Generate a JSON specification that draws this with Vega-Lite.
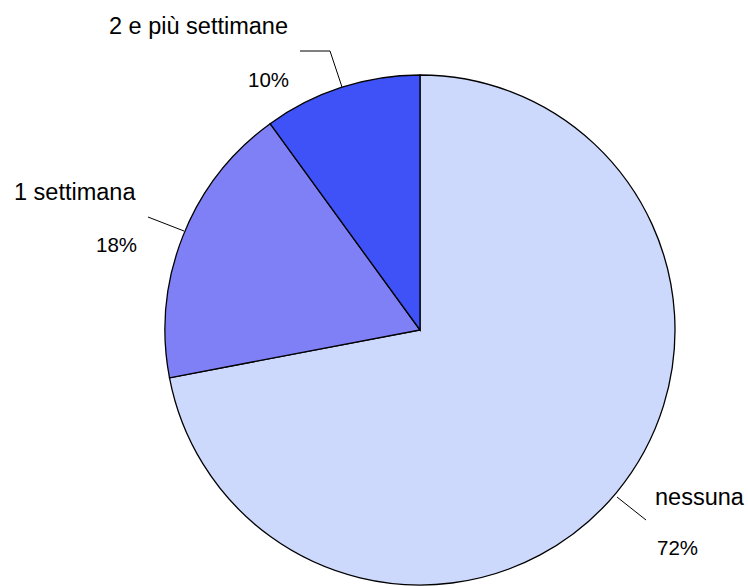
{
  "$schema": "https://vega.github.io/schema/vega-lite/v6.json",
  "width": 656,
  "height": 512,
  "autosize": {"type": "none"},
  "padding": {"left": 92, "top": 74, "right": 0, "bottom": 0},
  "background": "white",
  "config": {"view": {"stroke": null}},
  "layer": [
    {
      "data": {"values": [
        {"category": "nessuna", "value": 72, "ord": 1},
        {"category": "1 settimana", "value": 18, "ord": 2},
        {"category": "2 e più settimane", "value": 10, "ord": 3}
      ]},
      "mark": {"type": "arc", "outerRadius": 255, "stroke": "black", "strokeWidth": 1.3},
      "encoding": {
        "theta": {"field": "value", "type": "quantitative", "stack": true},
        "order": {"field": "ord", "type": "quantitative"},
        "color": {
          "field": "category", "type": "nominal", "legend": null,
          "scale": {"domain": ["nessuna", "1 settimana", "2 e più settimane"], "range": ["#cdd9fc", "#8080f6", "#3f52f7"]}
        }
      }
    },
    {
      "data": {"values": [
        {"line": "a", "i": 1, "x": -0.4706, "y": 1.0941},
        {"line": "a", "i": 2, "x": -0.3529, "y": 1.0941},
        {"line": "a", "i": 3, "x": -0.3059, "y": 0.9529},
        {"line": "b", "i": 1, "x": -1.0667, "y": 0.4431},
        {"line": "b", "i": 2, "x": -0.9255, "y": 0.3882},
        {"line": "c", "i": 1, "x": 0.7725, "y": -0.6549},
        {"line": "c", "i": 2, "x": 0.8863, "y": -0.7451}
      ]},
      "mark": {"type": "line", "color": "black", "strokeWidth": 1},
      "encoding": {
        "x": {"field": "x", "type": "quantitative", "axis": null, "scale": {"domain": [-1.2863, 1.2863], "nice": false, "zero": false}},
        "y": {"field": "y", "type": "quantitative", "axis": null, "scale": {"domain": [-1.00392, 1.00392], "nice": false, "zero": false}},
        "detail": {"field": "line", "type": "nominal"},
        "order": {"field": "i", "type": "quantitative"}
      }
    },
    {
      "data": {"values": [
        {"label": "2 e più settimane", "x": -1.2196, "y": 1.1608},
        {"label": "1 settimana", "x": -1.5922, "y": 0.5098},
        {"label": "nessuna", "x": 0.9216, "y": -0.6863}
      ]},
      "mark": {"type": "text", "align": "left", "baseline": "alphabetic", "font": "Liberation Sans", "fontSize": 23.5, "color": "black"},
      "encoding": {
        "x": {"field": "x", "type": "quantitative"},
        "y": {"field": "y", "type": "quantitative"},
        "text": {"field": "label"}
      }
    },
    {
      "data": {"values": [
        {"label": "10%", "x": -0.6745, "y": 0.9529},
        {"label": "18%", "x": -1.2706, "y": 0.3059},
        {"label": "72%", "x": 0.9294, "y": -0.8824}
      ]},
      "mark": {"type": "text", "align": "left", "baseline": "alphabetic", "font": "Liberation Sans", "fontSize": 20.5, "color": "black"},
      "encoding": {
        "x": {"field": "x", "type": "quantitative"},
        "y": {"field": "y", "type": "quantitative"},
        "text": {"field": "label"}
      }
    }
  ]
}
